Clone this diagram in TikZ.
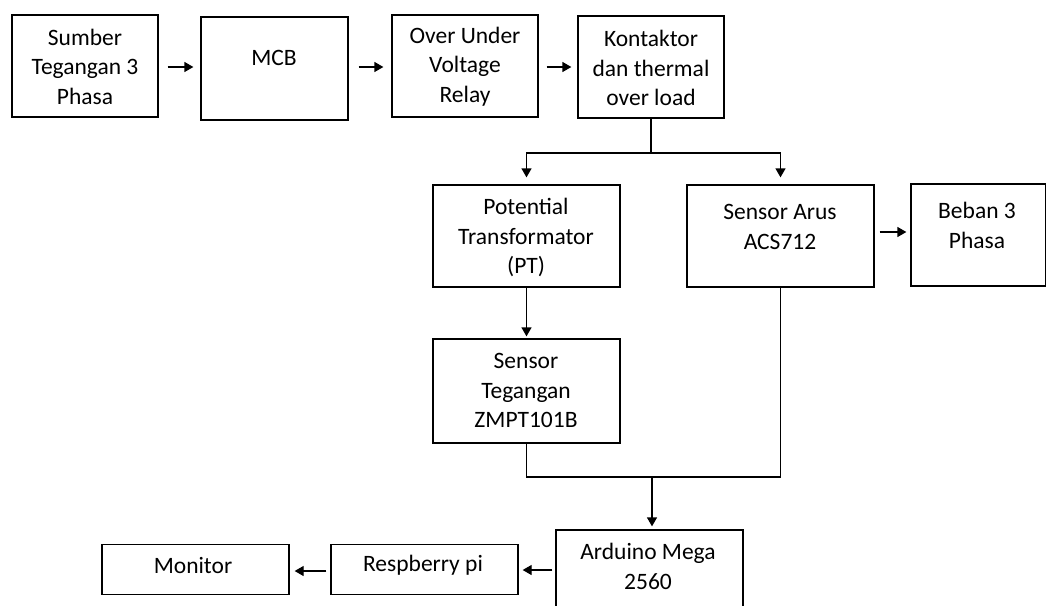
\documentclass[tikz,border=0pt]{standalone}
\usepackage{fontspec}
\setmainfont{Carlito}
\usetikzlibrary{arrows.meta}
\begin{document}
\begin{tikzpicture}[x=1pt,y=-1pt,
  box/.style={draw, line width=1.3pt, inner sep=0pt},
  txt/.style={align=center, inner sep=0pt, font=\fontsize{23.5}{29.5}\selectfont},
  arr/.style={line width=1.3pt, -{Triangle[length=9pt,width=10pt]}},
  wire/.style={line width=1.3pt}]
\useasboundingbox (0,0) rectangle (1046,605);
\clip (0,0) rectangle (1046,605);
\fill[white] (0,0) rectangle (1046,605);
% boxes
\node[box, minimum width=146pt, minimum height=102pt] (src) at (85,66) {};
\node[box, minimum width=147pt, minimum height=103pt] (mcb) at (274.5,68.5) {};
\node[box, minimum width=146pt, minimum height=102pt] (ouv) at (465,66) {};
\node[box, minimum width=146pt, minimum height=102pt] (kon) at (651,67) {};
\node[box, minimum width=187pt, minimum height=102pt] (pt) at (526.5,236) {};
\node[box, minimum width=187pt, minimum height=102pt] (ars) at (780.5,236) {};
\node[box, minimum width=135pt, minimum height=102pt] (beb) at (978.5,235) {};
\node[box, minimum width=187pt, minimum height=104pt] (zmp) at (526.5,391) {};
\node[box, minimum width=187pt, minimum height=103pt] (ard) at (649.5,581.5) {};
\node[box, minimum width=187pt, minimum height=50pt] (rpi) at (424.5,569.5) {};
\node[box, minimum width=187pt, minimum height=50pt] (mon) at (195.5,569.5) {};
% texts
\node[txt] (src-t) at (85,66.5) {Sumber\\Tegangan 3\\Phasa};
\node[txt] (mcb-t) at (274,57.5) {MCB};
\node[txt] (ouv-t) at (465,66.5) {Over Under\\Voltage\\Relay};
\node[txt] (kon-t) at (651,68) {Kontaktor\\dan thermal\\over load};
\node[txt] (pt-t) at (526,237.5) {Potential\\Transformator\\(PT)};
\node[txt] (ars-t) at (780,227) {Sensor Arus\\ACS712};
\node[txt] (beb-t) at (977,225.5) {Beban 3\\Phasa};
\node[txt] (zmp-t) at (526,390.5) {Sensor\\Tegangan\\ZMPT101B};
\node[txt] (ard-t) at (648,566.5) {Arduino Mega\\2560};
\node[txt] (rpi-t) at (423,565.5) {Respberry pi};
\node[txt] (mon-t) at (193,565.5) {Monitor};
% junctions
\coordinate (j1) at (651,153);
\coordinate (j2) at (652,477);
% connectors
\draw[arr, shorten <=9pt, shorten >=7pt] (src.east |- 0,67) -- (mcb.west |- 0,67);
\draw[arr, shorten <=10pt, shorten >=8pt] (mcb.east |- 0,67) -- (ouv.west |- 0,67);
\draw[arr, shorten <=8pt, shorten >=6pt] (ouv.east |- 0,67) -- (kon.west |- 0,67);
\draw[wire] (kon.south) -- (j1);
\draw[arr, shorten >=7pt] (j1) -| (pt.north);
\draw[arr, shorten >=7pt] (j1) -| (ars.north);
\draw[arr, shorten <=5pt, shorten >=4pt] (ars.east |- 0,232) -- (beb.west |- 0,232);
\draw[arr, shorten >=2pt] (pt.south) -- (zmp.north);
\draw[wire] (zmp.south) |- (j2);
\draw[wire] (ars.south) |- (j2);
\draw[arr, shorten >=3pt] (j2) -- (j2 |- ard.north);
\draw[arr, shorten <=3pt, shorten >=4pt] (ard.west |- 0,570) -- (rpi.east |- 0,570);
\draw[arr, shorten <=4pt, shorten >=5pt] (rpi.west |- 0,571) -- (mon.east |- 0,571);
\end{tikzpicture}
\end{document}
